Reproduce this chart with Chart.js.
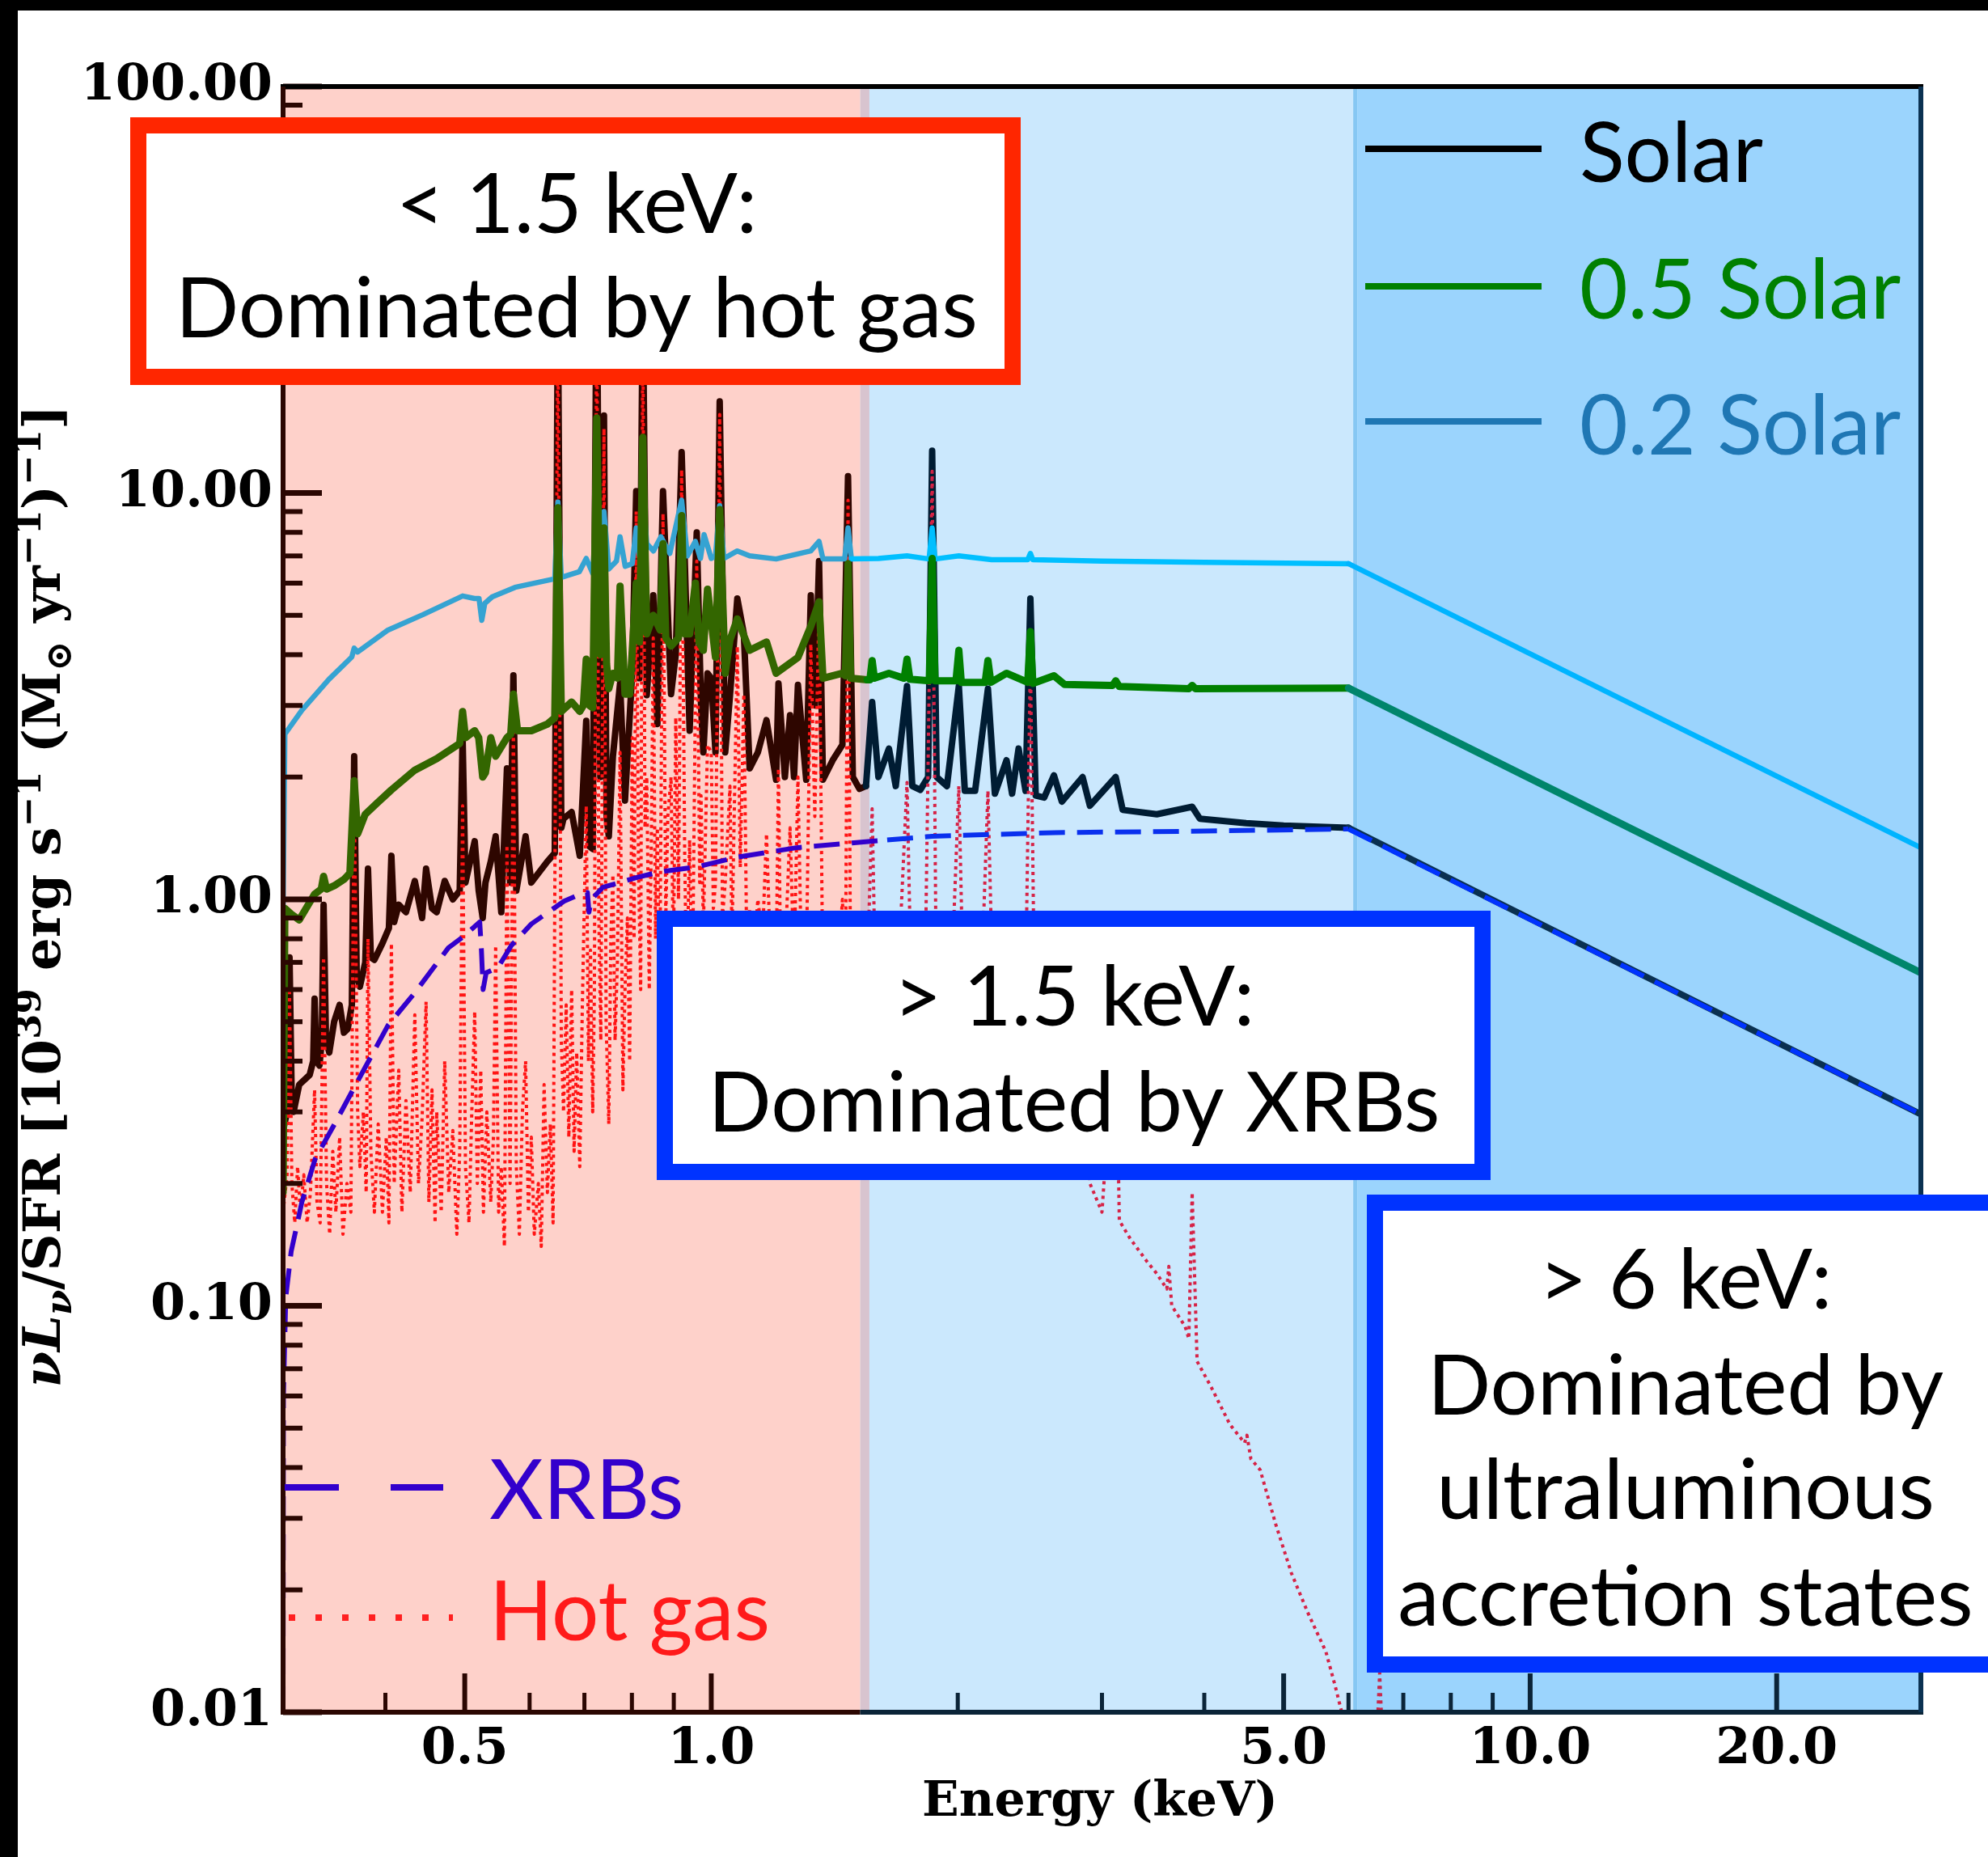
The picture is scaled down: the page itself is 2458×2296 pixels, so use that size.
<!DOCTYPE html>
<html>
<head>
<meta charset="utf-8">
<title>X-ray spectrum per unit SFR</title>
<script src="https://cdn.jsdelivr.net/npm/chart.js"></script>
<style>
  html, body { margin: 0; padding: 0; background: #fff; }
  canvas { display: block; }
</style>
</head>
<body>
<canvas id="spec" width="2458" height="2296"></canvas>
<script>
// ---- spectra: energy (keV) and nuL_nu/SFR (1e39 erg/s per Msun/yr) ----
const solarE = [0.300,0.3034,0.3055,0.3075,0.309,0.3139,0.3233,0.3265,0.3278,0.3295,0.3323,0.3345,0.3362,0.3385,0.3416,0.3463,0.3517,0.356,0.3598,0.364,0.3664,0.369,0.3723,0.378,0.3809,0.384,0.3878,0.3967,0.404,0.4068,0.41,0.4153,0.4238,0.4345,0.4435,0.4485,0.456,0.4621,0.4726,0.4835,0.493,0.497,0.501,0.5142,0.52,0.5259,0.53,0.538,0.5454,0.5541,0.563,0.568,0.5733,0.578,0.5933,0.6029,0.6308,0.644,0.6497,0.656,0.6601,0.6753,0.6909,0.7036,0.71,0.7165,0.7247,0.732,0.7396,0.745,0.7497,0.7584,0.7738,0.7846,0.8008,0.8098,0.817,0.8249,0.8342,0.8495,0.8594,0.8731,0.8931,0.905,0.9201,0.941,0.96,0.9716,0.978,0.9895,1.0,1.012,1.024,1.04,1.054,1.076,1.096,1.114,1.14,1.168,1.2,1.208,1.23,1.248,1.262,1.276,1.306,1.323,1.338,1.354,1.369,1.407,1.446,1.469,1.489,1.517,1.545,1.572,1.6,1.648,1.68,1.734,1.76,1.8,1.84,1.861,1.885,1.94,2.006,2.04,2.1,2.177,2.22,2.294,2.33,2.373,2.42,2.453,2.49,2.55,2.621,2.68,2.841,2.9,3.118,3.18,3.5,3.866,3.95,4.5,5.0,6.0,30.0];
const solarV = [0.27,0.30,0.72,0.31,0.30,0.35,0.37,0.40,0.57,0.40,0.39,0.45,0.97,0.45,0.42,0.50,0.55,0.47,0.48,0.55,2.25,0.65,0.61,0.70,1.19,0.72,0.71,0.78,0.85,1.28,0.88,0.97,0.93,1.11,0.90,1.19,0.95,0.93,1.11,1.00,1.05,2.5,1.10,1.39,1.05,0.90,1.10,1.24,1.43,0.93,2.1,1.1,3.56,1.05,1.43,1.10,1.24,1.3,30,1.5,1.58,1.64,1.28,2.75,1.35,1.33,40,2.0,15.5,1.6,1.43,2.25,3.4,1.75,3.64,10.1,3.5,30,3.18,5.6,2.7,10.1,3.2,4.0,12.6,2.6,8.0,3.0,2.3,3.6,3.5,2.3,16.8,2.3,3.17,5.5,4.5,2.1,2.3,2.76,1.97,3.4,2.0,2.84,2.0,3.37,1.97,5.6,3.0,6.8,1.97,2.2,2.4,11.0,2.0,1.87,1.9,3.06,2.0,2.35,1.9,3.35,1.9,1.86,2.0,12.7,2.0,1.9,3.35,1.85,1.85,3.3,1.82,2.2,1.82,2.35,1.85,5.5,1.8,1.78,2.02,1.74,2.0,1.7,2.0,1.66,1.62,1.69,1.58,1.54,1.52,1.50,0.296];

const halfE = [0.300,0.3015,0.3069,0.3139,0.32,0.3278,0.334,0.3362,0.339,0.3463,0.356,0.362,0.3664,0.37,0.378,0.39,0.4068,0.4345,0.4621,0.493,0.497,0.501,0.5142,0.52,0.5259,0.53,0.538,0.5454,0.563,0.569,0.5733,0.58,0.6029,0.6308,0.644,0.6497,0.656,0.6753,0.6909,0.698,0.7036,0.71,0.7165,0.7247,0.732,0.7396,0.745,0.7497,0.7584,0.768,0.7738,0.7846,0.795,0.8098,0.817,0.8249,0.8342,0.8495,0.866,0.8731,0.88,0.8931,0.912,0.9201,0.928,0.941,0.9563,0.966,0.978,0.9895,1.012,1.024,1.04,1.054,1.076,1.114,1.168,1.2,1.276,1.323,1.354,1.369,1.446,1.458,1.469,1.48,1.55,1.562,1.572,1.582,1.648,1.72,1.734,1.748,1.846,1.861,1.876,1.99,2.006,2.02,2.16,2.177,2.195,2.294,2.435,2.453,2.47,2.621,2.7,3.09,3.118,3.15,3.83,3.866,3.9,6.0,30.0];
const halfV = [0.19,0.95,0.92,0.89,0.95,1.03,1.06,1.14,1.06,1.08,1.12,1.16,1.96,1.45,1.62,1.72,1.86,2.08,2.22,2.42,2.9,2.5,2.6,2.5,2.0,2.05,2.5,2.25,2.5,2.55,3.2,2.6,2.6,2.7,2.8,9.2,2.9,3.06,2.9,3.0,3.9,3.0,2.96,15.3,4.0,8.2,3.8,3.3,3.6,3.5,5.9,3.2,3.2,6.0,4.3,13.7,4.5,5.0,4.6,7.5,4.4,4.2,4.4,8.8,4.5,4.5,6.0,4.3,4.1,5.8,3.94,9.1,3.6,4.35,4.9,4.1,4.3,3.6,3.94,4.7,5.4,3.5,3.6,3.55,6.7,3.5,3.47,3.47,3.87,3.5,3.6,3.5,3.9,3.48,3.45,6.9,3.45,3.45,4.1,3.42,3.42,3.87,3.42,3.6,3.42,4.56,3.4,3.55,3.38,3.36,3.45,3.34,3.3,3.36,3.3,3.31,0.66];

const fifthE = [0.300,0.3015,0.3163,0.3413,0.364,0.3664,0.37,0.403,0.4447,0.497,0.514,0.5205,0.5245,0.529,0.54,0.576,0.644,0.6497,0.656,0.69,0.7036,0.7165,0.7247,0.732,0.7396,0.7497,0.766,0.7738,0.785,0.8008,0.8098,0.817,0.8249,0.8342,0.85,0.868,0.89,0.9201,0.935,0.9563,0.97,0.98,1.0,1.012,1.024,1.036,1.076,1.114,1.2,1.323,1.354,1.369,1.455,1.469,1.483,1.6,1.734,1.845,1.861,1.876,2.006,2.2,2.435,2.453,2.47,3.0,4.0,6.0,30.0];
const fifthV = [0.9,2.55,2.92,3.48,3.95,4.15,4.06,4.6,5.02,5.58,5.5,5.5,4.86,5.35,5.55,5.86,6.15,9.5,6.2,6.4,6.9,6.34,9.2,6.5,9.0,6.5,6.8,7.8,6.6,6.7,8.2,7.0,10.0,7.5,7.2,7.8,7.1,9.6,7.0,7.6,6.9,7.9,6.9,7.0,9.3,6.9,7.2,7.0,6.88,7.2,7.6,6.88,6.88,8.2,6.88,6.9,7.0,6.88,8.2,6.88,7.0,6.85,6.85,7.1,6.85,6.8,6.75,6.7,1.34];

const xrbE = [0.300,0.3003,0.3023,0.3069,0.3163,0.3284,0.3467,0.368,0.403,0.4347,0.4775,0.498,0.5215,0.524,0.5265,0.531,0.549,0.570,0.603,0.661,0.692,0.706,0.709,0.714,0.737,0.808,0.867,0.956,1.076,1.27,1.64,1.86,2.63,3.73,6.0,30.0];
const xrbV = [0.010,0.06,0.105,0.136,0.18,0.23,0.28,0.35,0.49,0.59,0.76,0.81,0.88,0.75,0.60,0.66,0.68,0.77,0.87,0.99,1.03,1.04,0.93,1.0,1.07,1.13,1.17,1.20,1.27,1.34,1.40,1.43,1.46,1.47,1.49,0.296];

const gasE = [0.300,0.3034,0.3055,0.3075,0.31,0.3125,0.315,0.318,0.321,0.324,0.3278,0.33,0.333,0.3362,0.339,0.342,0.345,0.348,0.3517,0.355,0.359,0.363,0.3664,0.37,0.3723,0.376,0.379,0.3809,0.384,0.3878,0.392,0.3967,0.401,0.404,0.4068,0.41,0.4153,0.419,0.4238,0.429,0.4345,0.439,0.4435,0.4485,0.452,0.456,0.46,0.4621,0.468,0.4726,0.478,0.4835,0.489,0.493,0.497,0.501,0.506,0.51,0.5142,0.518,0.523,0.527,0.532,0.538,0.542,0.5454,0.55,0.5541,0.559,0.563,0.568,0.5733,0.578,0.583,0.588,0.5933,0.598,0.6029,0.608,0.615,0.62,0.625,0.6308,0.636,0.641,0.6497,0.656,0.6601,0.665,0.67,0.6753,0.68,0.685,0.6909,0.696,0.7036,0.708,0.712,0.7165,0.72,0.7247,0.729,0.733,0.7396,0.744,0.7497,0.754,0.7584,0.763,0.768,0.7738,0.78,0.7846,0.79,0.795,0.8008,0.805,0.8098,0.815,0.82,0.8249,0.83,0.8342,0.84,0.845,0.8495,0.855,0.8594,0.865,0.8731,0.88,0.885,0.8931,0.899,0.905,0.912,0.9201,0.928,0.933,0.941,0.948,0.96,0.968,0.9716,0.978,0.9895,1.0,1.006,1.012,1.024,1.032,1.04,1.054,1.06,1.076,1.085,1.096,1.105,1.114,1.125,1.14,1.155,1.168,1.18,1.2,1.208,1.215,1.23,1.248,1.262,1.276,1.29,1.306,1.323,1.338,1.354,1.369,1.385,1.407,1.42,1.446,1.458,1.469,1.48,1.517,1.545,1.572,1.59,1.648,1.68,1.734,1.76,1.82,1.861,1.885,1.95,2.006,2.04,2.12,2.177,2.22,2.294,2.33,2.373,2.41,2.453,2.49,2.621,2.68,2.841,2.9,3.0,3.118,3.15,3.25,3.4,3.5,3.6,3.62,3.65,3.79,3.83,3.866,3.92,4.08,4.3,4.48,4.51,4.56,4.68,4.89,5.11,5.35,5.63,5.78,5.88,6.0,6.45,6.55,6.65,8.0];
const gasV = [0.17,0.21,0.59,0.20,0.16,0.22,0.17,0.21,0.16,0.19,0.34,0.18,0.16,0.72,0.20,0.15,0.24,0.17,0.26,0.15,0.20,0.17,1.90,0.30,0.22,0.30,0.19,0.80,0.24,0.17,0.28,0.17,0.26,0.16,0.78,0.20,0.38,0.17,0.32,0.19,0.52,0.20,0.29,0.56,0.18,0.34,0.16,0.30,0.17,0.40,0.19,0.27,0.15,0.24,1.70,0.22,0.16,0.30,0.53,0.20,0.38,0.17,0.30,0.18,0.26,0.77,0.17,0.22,0.14,1.36,0.20,2.80,0.22,0.15,0.30,0.40,0.17,0.26,0.15,0.20,0.14,0.35,0.19,0.28,0.16,30,0.45,0.30,0.55,0.26,0.60,0.24,0.42,0.22,0.55,1.70,0.40,0.75,0.30,0.60,40,0.90,0.45,14.4,0.50,0.28,0.80,1.15,0.45,0.70,2.30,0.34,0.60,0.90,0.40,2.50,0.80,9.0,1.2,0.60,30,1.5,2.0,0.60,1.4,4.4,0.80,1.5,0.55,8.9,0.90,1.6,2.0,0.70,2.8,1.0,11.4,1.3,0.60,1.4,0.55,6.8,1.1,1.8,0.85,2.4,2.3,0.95,1.1,15.6,0.90,1.1,1.9,0.80,4.2,1.2,3.2,0.75,0.95,0.70,1.0,0.80,1.45,0.78,0.65,2.1,0.70,0.72,1.5,0.68,2.0,0.62,0.66,4.25,1.6,5.4,0.58,0.70,0.80,0.55,1.0,0.55,9.6,0.55,0.50,0.52,1.67,0.50,0.90,0.48,1.94,0.45,0.45,11.3,0.45,0.42,1.9,0.40,0.38,1.85,0.36,0.75,0.34,0.90,0.33,4.0,0.32,0.55,0.26,0.55,0.20,0.17,0.53,0.162,0.146,0.129,0.12,0.11,0.125,0.10,0.089,0.083,0.19,0.073,0.063,0.051,0.046,0.048,0.042,0.0395,0.029,0.022,0.0176,0.0141,0.0116,0.0101,0.0088,0.0062,0.0125,0.006,0.0035];

// ---- axes ----
const xMajorTicks = [0.5, 1, 5, 10, 20];
const xTickLabels = ['0.5', '1.0', '5.0', '10.0', '20.0'];
const xMinorTicks = [0.4, 0.6, 0.7, 0.8, 0.9, 2, 3, 4, 6, 7, 8, 9];
const yMajorTicks = [0.01, 0.1, 1, 10, 100];
const yTickLabels = ['0.01', '0.10', '1.00', '10.00', '100.00'];
const yMinorTicks = [];
[0.01, 0.1, 1, 10].forEach(d => { for (let k = 2; k <= 9; k++) yMinorTicks.push(+(d * k).toPrecision(3)); });

// energy bands shaded behind the spectra: [from, to, colour]
const bands = [
  [0.3, 1.52, '#fed1ca'],
  [1.52, 1.56, '#d8c4cf'],
  [1.56, 6.08, '#cbe8fd'],
  [6.08, 6.15, '#86c7f3'],
  [6.15, 30, '#9bd4fd']
];
const bandIndex = e => (e < 1.54 ? 0 : (e < 6.1 ? 1 : 2));

const series = (E, V) => E.map((e, i) => ({ x: e, y: V[i] }));
const tinted = cols => c => cols[bandIndex((c.p0.parsed.x + c.p1.parsed.x) / 2)];

// one line style per component; colours shift with the shaded band underneath
function lineSet(label, E, V, width, colours, dash) {
  const seg = { borderColor: tinted(colours), borderWidth: width };
  if (dash) seg.borderDash = dash;
  const ds = { label, data: series(E, V), borderWidth: width, borderColor: colours[1], segment: seg };
  if (dash) { ds.borderDash = dash; ds.borderCapStyle = 'butt'; }
  return ds;
}

const SERIF = '"DejaVu Serif", "Liberation Serif", serif';
const SANS = 'Lato, "Open Sans", sans-serif';

const datasets = [
  lineSet('0.5 Solar', halfE, halfV, 9, ['#336600', '#008000', '#00856b']),
  lineSet('0.2 Solar', fifthE, fifthV, 6.5, ['#35a3d2', '#00bfff', '#00b4ff']),
  lineSet('XRBs', xrbE, xrbV, 6, ['#3300cc', '#0a30ee', '#0033ff'], [32, 15]),
  lineSet('Hot gas', gasE, gasV, 4, ['#ff1414', '#d62246', '#c8284c'], [4, 5]),
  lineSet('Solar', solarE, solarV, 8, ['#2e0600', '#001c33', '#0a3050'])
];

function framedBox(ctx, x0, y0, x1, y1, colour, lines, cx, baselines) {
  ctx.save();
  ctx.fillStyle = '#fff';
  ctx.fillRect(x0, y0, x1 - x0, y1 - y0);
  ctx.lineWidth = 20;
  ctx.strokeStyle = colour;
  ctx.strokeRect(x0 + 10, y0 + 10, x1 - x0 - 20, y1 - y0 - 20);
  ctx.fillStyle = '#000';
  ctx.font = '103px ' + SANS;
  ctx.textAlign = 'center';
  ctx.textBaseline = 'alphabetic';
  lines.forEach((t, i) => ctx.fillText(t, cx, baselines[i]));
  ctx.restore();
}

function yTitle(ctx, px, py) {
  const size = 64;
  const parts = [
    { t: 'ν', s: 1, dy: 0, it: true }, { t: 'L', s: 1, dy: 0, it: true },
    { t: 'ν', s: 0.7, dy: 0.22, it: true }, { t: '/SFR [10', s: 1, dy: 0 },
    { t: '39', s: 0.7, dy: -0.38 }, { t: ' erg s', s: 1, dy: 0 },
    { t: '−1', s: 0.7, dy: -0.38 }, { t: ' (M', s: 1, dy: 0 },
    { t: '⊙', s: 0.7, dy: 0.22 }, { t: ' yr', s: 1, dy: 0 },
    { t: '−1', s: 0.7, dy: -0.38 }, { t: ')', s: 1, dy: 0 },
    { t: '−1', s: 0.7, dy: -0.38 }, { t: ']', s: 1, dy: 0 }
  ];
  const fontOf = p => (p.it ? 'italic ' : '') + 'bold ' + Math.round(size * p.s) + 'px ' + SERIF;
  ctx.save();
  let total = 0;
  parts.forEach(p => { ctx.font = fontOf(p); p.w = ctx.measureText(p.t).width; total += p.w; });
  ctx.translate(px, py);
  ctx.rotate(-Math.PI / 2);
  ctx.fillStyle = '#000';
  ctx.textAlign = 'left';
  ctx.textBaseline = 'alphabetic';
  let x = -total / 2;
  parts.forEach(p => { ctx.font = fontOf(p); ctx.fillText(p.t, x, p.dy * size); x += p.w; });
  ctx.restore();
}

const decor = {
  id: 'decor',
  beforeDraw(chart) {
    const ctx = chart.ctx;
    ctx.save();
    ctx.fillStyle = '#fff';
    ctx.fillRect(0, 0, chart.width, chart.height);
    ctx.fillStyle = '#000';
    ctx.fillRect(0, 0, chart.width, 13);
    ctx.fillRect(0, 0, 22, chart.height);
    ctx.restore();
  },
  beforeDatasetsDraw(chart) {
    const { ctx, chartArea: a, scales: { x } } = chart;
    ctx.save();
    bands.forEach(([e0, e1, c]) => {
      const x0 = x.getPixelForValue(e0), x1 = x.getPixelForValue(e1);
      ctx.fillStyle = c;
      ctx.fillRect(x0, a.top, x1 - x0, a.bottom - a.top);
    });
    ctx.restore();
  },
  afterDatasetsDraw(chart) {
    const { ctx, chartArea: a, scales: { x, y } } = chart;
    const warm = '#2b0702', cool = '#0b2438';
    ctx.save();
    ctx.lineCap = 'butt';
    // y ticks, pointing inward from the left spine
    [[yMajorTicks, 48, 7], [yMinorTicks, 24, 6]].forEach(([vals, len, lw]) => {
      ctx.strokeStyle = warm; ctx.lineWidth = lw;
      vals.forEach(v => {
        const py = y.getPixelForValue(v);
        ctx.beginPath(); ctx.moveTo(a.left, py); ctx.lineTo(a.left + len, py); ctx.stroke();
      });
    });
    // x ticks, pointing inward from the bottom spine
    [[xMajorTicks, 48, 6], [xMinorTicks, 24, 5]].forEach(([vals, len, lw]) => {
      ctx.lineWidth = lw;
      vals.forEach(v => {
        const px = x.getPixelForValue(v);
        ctx.strokeStyle = bandIndex(v) === 0 ? warm : cool;
        ctx.beginPath(); ctx.moveTo(px, a.bottom); ctx.lineTo(px, a.bottom - len); ctx.stroke();
      });
    });
    // frame
    ctx.lineWidth = 6;
    const split = x.getPixelForValue(1.52);
    ctx.strokeStyle = '#000';
    ctx.beginPath(); ctx.moveTo(a.left - 3, a.top); ctx.lineTo(a.right + 3, a.top); ctx.stroke();
    ctx.strokeStyle = warm;
    ctx.beginPath(); ctx.moveTo(a.left, a.top); ctx.lineTo(a.left, a.bottom + 3); ctx.stroke();
    ctx.beginPath(); ctx.moveTo(a.left - 3, a.bottom); ctx.lineTo(split, a.bottom); ctx.stroke();
    ctx.strokeStyle = cool;
    ctx.beginPath(); ctx.moveTo(split, a.bottom); ctx.lineTo(a.right + 3, a.bottom); ctx.stroke();
    ctx.strokeStyle = '#0b3252';
    ctx.beginPath(); ctx.moveTo(a.right, a.top); ctx.lineTo(a.right, a.bottom); ctx.stroke();
    ctx.restore();
  },
  afterDraw(chart) {
    const ctx = chart.ctx;
    ctx.save();
    // axis titles
    ctx.fillStyle = '#000';
    ctx.font = 'bold 60px ' + SERIF;
    ctx.textAlign = 'center';
    ctx.textBaseline = 'alphabetic';
    ctx.fillText('Energy (keV)', 1360, 2245);
    yTitle(ctx, 74, 1108);

    // metallicity legend (top right)
    const metal = [['Solar', '#000', 184, 225], ['0.5 Solar', '#008000', 354, 394], ['0.2 Solar', '#1f77b4', 521, 562]];
    ctx.lineWidth = 8;
    ctx.lineCap = 'butt';
    ctx.font = '103px ' + SANS;
    ctx.textAlign = 'left';
    metal.forEach(([t, c, ly, by]) => {
      ctx.strokeStyle = c;
      ctx.beginPath(); ctx.moveTo(1688, ly); ctx.lineTo(1906, ly); ctx.stroke();
      ctx.fillStyle = c;
      ctx.fillText(t, 1953, by);
    });

    // component legend (bottom left)
    ctx.strokeStyle = '#3300cc';
    ctx.setLineDash([67, 64]);
    ctx.beginPath(); ctx.moveTo(352, 1839); ctx.lineTo(548, 1839); ctx.stroke();
    ctx.fillStyle = '#3300cc';
    ctx.fillText('XRBs', 605, 1878);
    ctx.strokeStyle = '#ff2020';
    ctx.setLineDash([8, 25]);
    ctx.beginPath(); ctx.moveTo(357, 2000); ctx.lineTo(560, 2000); ctx.stroke();
    ctx.setLineDash([]);
    ctx.fillStyle = '#ff1a1a';
    ctx.fillText('Hot gas', 605, 2028);
    ctx.restore();

    // energy-range annotations
    framedBox(ctx, 161, 145, 1262, 476, '#ff2600',
      ['< 1.5 keV:', 'Dominated by hot gas'], 713, [288, 417]);
    framedBox(ctx, 812, 1126, 1843, 1459, '#0033ff',
      ['> 1.5 keV:', 'Dominated by XRBs'], 1328, [1268, 1399]);
    framedBox(ctx, 1690, 1477, 2490, 2068, '#0033ff',
      ['> 6 keV:', 'Dominated by', 'ultraluminous', 'accretion states'], 2084, [1618, 1749, 1878, 2010]);
  }
};

new Chart(document.getElementById('spec'), {
  type: 'line',
  data: { datasets },
  options: {
    responsive: false,
    animation: false,
    devicePixelRatio: 1,
    layout: { padding: { top: 107, right: 83, left: 0, bottom: 0 } },
    plugins: { legend: { display: false }, tooltip: { enabled: false } },
    elements: {
      point: { radius: 0 },
      line: { tension: 0, borderJoinStyle: 'round', borderCapStyle: 'round' }
    },
    scales: {
      x: {
        type: 'logarithmic', min: 0.3, max: 30,
        grid: { display: false, drawTicks: false },
        border: { display: false },
        afterBuildTicks: s => { s.ticks = xMajorTicks.map(v => ({ value: v })); },
        afterFit: s => { s.height = 179; },
        ticks: {
          autoSkip: false, maxRotation: 0, minRotation: 0, padding: 10, color: '#000',
          font: { family: SERIF, weight: 'bold', size: 62 },
          callback: v => xTickLabels[xMajorTicks.indexOf(v)]
        }
      },
      y: {
        type: 'logarithmic', min: 0.01, max: 100,
        grid: { display: false, drawTicks: false },
        border: { display: false },
        afterBuildTicks: s => { s.ticks = yMajorTicks.map(v => ({ value: v })); },
        afterFit: s => { s.width = 350; },
        ticks: {
          autoSkip: false, padding: 13, color: '#000',
          font: { family: SERIF, weight: 'bold', size: 62 },
          callback: v => yTickLabels[yMajorTicks.indexOf(v)]
        }
      }
    }
  },
  plugins: [decor]
});
</script>
</body>
</html>
